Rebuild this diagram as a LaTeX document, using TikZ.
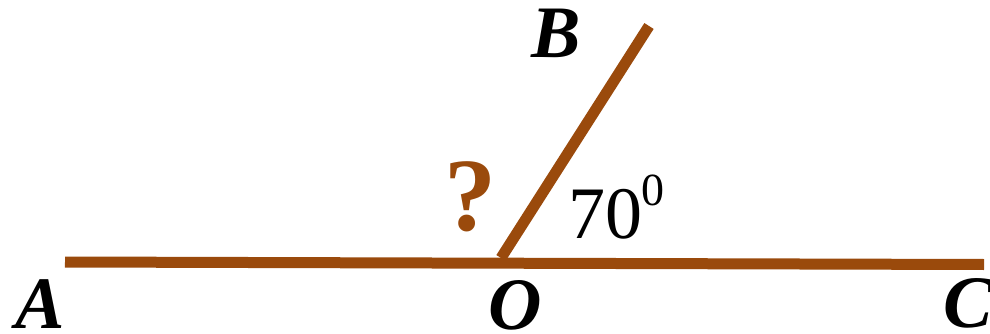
\documentclass[tikz,border=0pt]{standalone}
\usepackage{fontspec}
\setmainfont{Liberation Serif}
\definecolor{rayc}{RGB}{154,74,12}
\begin{document}
\begin{tikzpicture}[x=1pt,y=-1pt,
  ray/.style={draw=rayc,line width=11pt},
  lbl/.style={inner sep=0pt,font=\fontsize{74}{80}\selectfont\bfseries\itshape}]
\useasboundingbox (0,0) rectangle (990,334);
\coordinate (A0) at (65,262);
\coordinate (C0) at (984,264.5);
\coordinate (O0) at (501,258);
\coordinate (B0) at (649,26);
\draw[ray] (A0) -- (C0);
\draw[ray] (O0) -- (B0);
\node[lbl] (A) at (40,304) {A};
\node[lbl] (O) at (515,305) {O};
\node[lbl] (B) at (556,33) {B};
\node[lbl] (C) at (968,303) {C};
\node[inner sep=0pt,text=rayc,font=\fontsize{104}{110}\selectfont\bfseries] (q) at (470,197) {?};
\node[inner sep=0pt,anchor=base west,font=\fontsize{74}{80}\selectfont] (ang) at (568,238)
  {70\hspace{-1pt}\raisebox{33pt}{\fontsize{46}{48}\selectfont 0}};
\end{tikzpicture}
\end{document}
